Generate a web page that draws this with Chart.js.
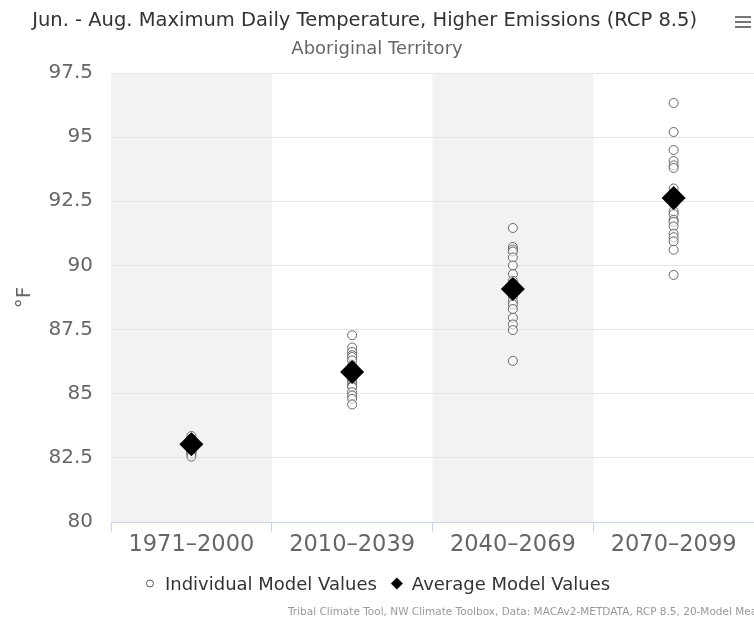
<!DOCTYPE html>
<html>
<head>
<meta charset="utf-8">
<script src="https://cdn.jsdelivr.net/npm/chart.js@4.4.1/dist/chart.umd.min.js"></script>
<style>
  html, body { margin: 0; padding: 0; background: #fff; }
  #wrap { position: relative; width: 754px; height: 626px; }
</style>
</head>
<body>
<div id="wrap"><canvas id="chart"></canvas></div>
<script>
"use strict";

// Jun-Aug max daily temperature, 20 GCMs per period, RCP 8.5.
const PERIODS = ["1971–2000", "2010–2039", "2040–2069", "2070–2099"];

const MODELS_1971 = [83.35, 83.25, 83.2, 83.15, 83.1, 83.1, 83.05, 83.0, 83.0, 82.95,
  82.95, 82.9, 82.9, 82.85, 82.8, 82.8, 82.75, 82.7, 82.65, 82.55];
const MODELS_2010 = [87.28, 86.8, 86.63, 86.5, 86.43, 86.3, 86.1, 86.0, 85.9, 85.8,
  85.7, 85.6, 85.5, 85.4, 85.3, 85.26, 85.06, 84.93, 84.8, 84.58];
const MODELS_2040 = [91.46, 90.72, 90.62, 90.54, 90.31, 90.0, 89.66, 89.4, 89.3, 89.2,
  89.0, 88.9, 88.8, 88.6, 88.48, 88.3, 87.96, 87.7, 87.48, 86.28];
const MODELS_2070 = [96.33, 95.2, 94.5, 94.07, 93.9, 93.8, 93.0, 92.8, 92.5, 92.4,
  92.11, 92.0, 91.78, 91.7, 91.52, 91.24, 91.1, 90.94, 90.61, 89.63];
const AVERAGES = [83.03, 85.85, 89.08, 92.63];

const Y_MIN = 80;
const Y_MAX = 97.5;
const Y_STEP = 2.5;

const TITLE = "Jun. - Aug. Maximum Daily Temperature, Higher Emissions (RCP 8.5)";
const SUBTITLE = "Aboriginal Territory";
const CREDITS = "Tribal Climate Tool, NW Climate Toolbox, Data: MACAv2-METDATA, RCP 8.5, 20-Model Mean";

const FONT = "'DejaVu Sans', 'Liberation Sans', sans-serif";

const individual = [];
[MODELS_1971, MODELS_2010, MODELS_2040, MODELS_2070].forEach((vals, i) => {
  vals.forEach((v) => individual.push({ x: PERIODS[i], y: v }));
});
const average = AVERAGES.map((v, i) => ({ x: PERIODS[i], y: v }));

function markerCanvas(draw) {
  const c = document.createElement("canvas");
  c.width = 16; c.height = 16;
  draw(c.getContext("2d"));
  return c;
}
const legendCircle = markerCanvas((g) => {
  g.beginPath(); g.arc(8, 6.5, 3.5, 0, Math.PI * 2);
  g.fillStyle = "#fff"; g.fill();
  g.strokeStyle = "#555"; g.lineWidth = 1; g.stroke();
});
const legendDiamond = markerCanvas((g) => {
  g.beginPath(); g.moveTo(8, 0.5); g.lineTo(14, 6.5); g.lineTo(8, 12.5); g.lineTo(2, 6.5); g.closePath();
  g.fillStyle = "#000"; g.fill();
});

// grey bands behind alternate periods + credits + menu icon
const decor = {
  id: "decor",
  beforeDraw(chart) {
    const { ctx, chartArea: a, scales: { x } } = chart;
    const half = (x.getPixelForValue(1) - x.getPixelForValue(0)) / 2;
    ctx.save();
    ctx.fillStyle = "#f2f2f2";
    [0, 2].forEach((i) => {
      const c = x.getPixelForValue(i);
      ctx.fillRect(c - half, a.top, half * 2, a.bottom - a.top);
    });
    ctx.restore();
  },
  afterDraw(chart) {
    const { ctx } = chart;
    ctx.save();
    ctx.fillStyle = "#999";
    ctx.font = "10.5px " + FONT;
    ctx.textBaseline = "middle";
    ctx.fillText(CREDITS, 288, 612);
    ctx.strokeStyle = "#666";
    ctx.lineWidth = 1.8;
    [17, 22, 27].forEach((y) => {
      ctx.beginPath(); ctx.moveTo(735, y); ctx.lineTo(751, y); ctx.stroke();
    });
    ctx.restore();
  },
};

new Chart(document.getElementById("chart"), {
  type: "scatter",
  data: {
    labels: PERIODS,
    datasets: [
      { label: "Individual Model Values", data: individual, order: 2,
        pointStyle: "circle", pointRadius: 4.5, pointBorderWidth: 1,
        pointBorderColor: "#666", pointBackgroundColor: "rgba(255,255,255,0.6)" },
      { label: "Average Model Values", data: average, order: 1,
        pointStyle: "rectRot", pointRadius: 12, pointBorderWidth: 0,
        pointBackgroundColor: "#000", pointBorderColor: "#000" },
    ],
  },
  options: {
    responsive: true,
    maintainAspectRatio: false,
    animation: false,
    layout: { autoPadding: false, padding: { left: 0, right: 0, top: 0, bottom: 22 } },
    plugins: {
      tooltip: { enabled: false },
      title: { display: true, text: TITLE + "\u00a0\u00a0\u00a0\u00a0", color: "#333",
        font: { family: FONT, size: 19.5, weight: "normal" }, padding: { top: 9, bottom: 4 } },
      subtitle: { display: true, text: SUBTITLE, color: "#666", font: { family: FONT, size: 18 },
        padding: { top: 2, bottom: 13 } },
      legend: {
        position: "bottom",
        labels: {
          color: "#333", font: { family: FONT, size: 18 }, usePointStyle: true, boxWidth: 12, boxHeight: 14, padding: 14,
          generateLabels: (chart) => chart.data.datasets.map((ds, i) => ({
            text: ds.label, datasetIndex: i, fontColor: "#333", lineWidth: 0,
            pointStyle: i === 0 ? legendCircle : legendDiamond, hidden: false,
          })),
        },
      },
    },
    scales: {
      x: {
        type: "category",
        labels: PERIODS,
        offset: true,
        afterFit: (s) => { s.paddingLeft = 0; s.paddingRight = 0; s.height += 3; },
        grid: { display: true, offset: true, drawOnChartArea: false, drawTicks: true, tickLength: 10, color: "#ccd6eb" },
        border: { display: true, color: "#ccd6eb" },
        ticks: { color: "#666", font: { family: FONT, size: 22.5 }, padding: 0 },
      },
      y: {
        min: Y_MIN, max: Y_MAX,
        afterFit: (s) => { s.width = 111; },
        grid: { color: "#e6e6e6", drawTicks: false },
        border: { display: false },
        ticks: { stepSize: Y_STEP, color: "#666", font: { family: FONT, size: 20 }, padding: 18,
          callback: (v) => String(v) },
        title: { display: true, text: "°F", color: "#666", font: { family: FONT, size: 20 }, padding: { top: 13, bottom: 0 } },
      },
    },
  },
  plugins: [decor],
});
</script>
</body>
</html>
